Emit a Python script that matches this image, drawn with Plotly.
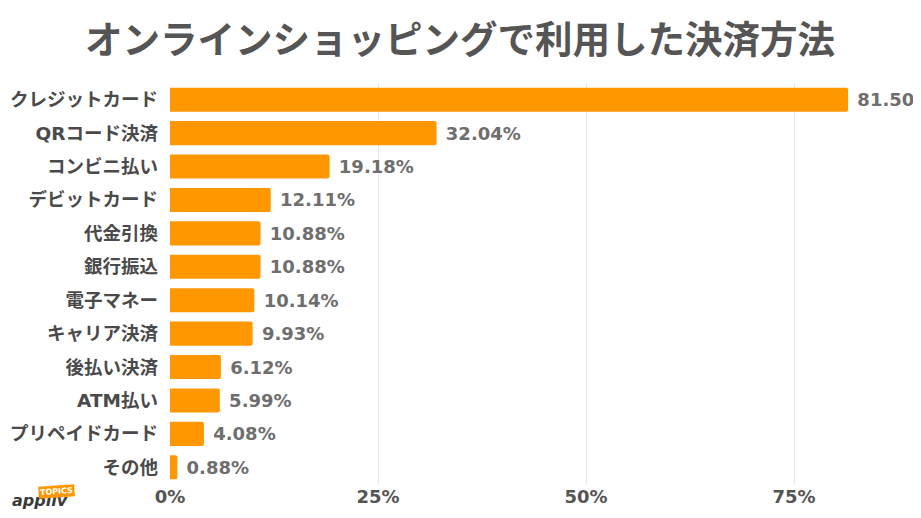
import plotly.graph_objects as go

# 決済方法とその利用率 (%)
methods = ["クレジットカード", "QRコード決済", "コンビニ払い", "デビットカード", "代金引換",
           "銀行振込", "電子マネー", "キャリア決済", "後払い決済", "ATM払い",
           "プリペイドカード", "その他"]
shares = [81.50, 32.04, 19.18, 12.11, 10.88, 10.88, 10.14, 9.93, 6.12, 5.99, 4.08, 0.88]

tick_vals = [0, 25, 50, 75]
tick_text = ["0%", "25%", "50%", "75%"]

FONT = "DejaVu Sans, Noto Sans CJK JP"
ORANGE = "#FF9800"

fig = go.Figure(go.Bar(
    x=shares, y=methods, orientation="h",
    marker=dict(color=ORANGE, cornerradius=2, line=dict(width=0)),
    text=[f"\u00a0{v:.2f}%" for v in shares], textposition="outside",
    textfont=dict(family="DejaVu Sans", size=18, color="#6e6e6e", weight="bold"),
    cliponaxis=False,
))

# ページの余白 (8px) ぶん小さくしてスクロールバーを出さない
fig.update_layout(
    width=905, height=502,
    paper_bgcolor="white", plot_bgcolor="white",
    margin=dict(l=162, r=0, t=75, b=26),
    title=dict(text="オンラインショッピングで利用した決済方法", x=452 / 905, xanchor="center",
               xref="container", y=1 - 32 / 502, yanchor="middle",
               font=dict(family="Noto Sans CJK JP", size=37.5, color="#555555", weight="bold")),
    bargap=0.28,
    showlegend=False,
)
fig.update_xaxes(range=[0, 89.3], tickvals=tick_vals, ticktext=tick_text,
                 showgrid=True, gridcolor="#e6e6e6", gridwidth=1,
                 zeroline=False, showline=False, ticks="", automargin=False,
                 tickfont=dict(family="DejaVu Sans", size=18, color="#555555", weight="bold"))
fig.update_yaxes(autorange="reversed", showgrid=False, ticks="", ticklabelstandoff=11,
                 automargin=False,
                 tickfont=dict(family=FONT, size=18.5, color="#4a4a4a", weight="bold"))

# appliv ロゴ (左下)
fig.add_annotation(xref="paper", yref="paper", x=-0.216, y=-0.04, xanchor="left", yanchor="middle",
                   text="<i>appliv</i>", showarrow=False,
                   font=dict(family="DejaVu Sans", size=16, color="#3a3a3a", weight="bold"))
fig.add_annotation(xref="paper", yref="paper", x=-0.178, y=-0.018, xanchor="left", yanchor="middle",
                   text="TOPICS", showarrow=False, bgcolor=ORANGE, borderpad=1, textangle=-4,
                   font=dict(family="DejaVu Sans", size=8, color="white", weight="bold"))

fig.write_html("out.html")
